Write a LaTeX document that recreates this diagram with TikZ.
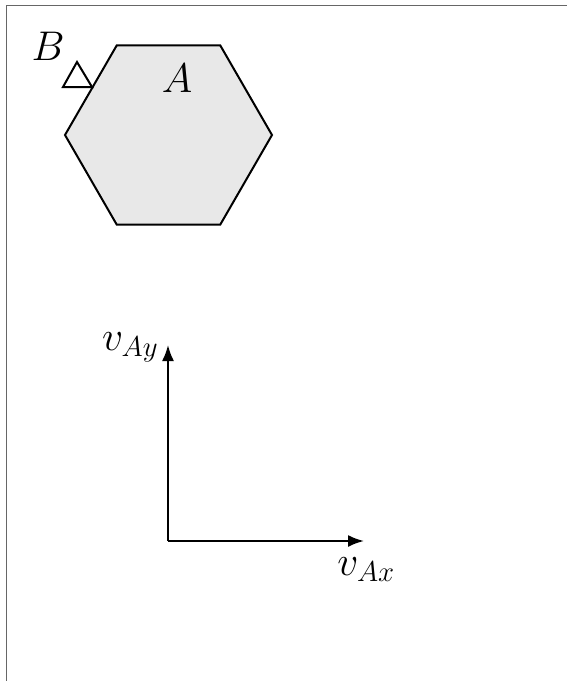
\documentclass[tikz,border=0pt]{standalone}
\usetikzlibrary{shapes.geometric,arrows.meta}

\begin{document}
\begin{tikzpicture}[
  x=0.5pt, y=-0.5pt,
  frame/.style={draw=black!60, line width=0.5pt},
  body/.style={draw, fill=black!9, line width=1pt, regular polygon, regular polygon sides=6,
    minimum size=103.5pt, inner sep=0pt},
  lbl/.style={font=\fontsize{22}{26}\selectfont, inner sep=0pt},
  axlbl/.style={font=\fontsize{20}{24}\selectfont, inner sep=0pt},
  axis/.style={-{Latex[length=8pt,width=6pt]}, line width=1pt}
]
  \useasboundingbox (0,0) rectangle (567,681);
  \draw[frame] (6,681) -- (6,5) -- (567,5);

  \node[body] (hex) at (168.5,135) {};
  \node[lbl] (A) at (177,78) {$A$};
  \draw[line width=1pt, line join=miter] (63,87) -- (77,62) -- (92,87) -- cycle;
  \node[lbl] (B) at (48,46) {$B$};

  \coordinate (O) at (168,541);
  \coordinate (ytip) at (168,345);
  \coordinate (xtip) at (364,541);
  \draw[axis] (O) -- (ytip);
  \draw[axis] (O) -- (xtip);
  \node[axlbl, anchor=base east] (vy) at (159,350) {$v_{Ay}$};
  \node[axlbl, anchor=base west] (vx) at (337,575) {$v_{Ax}$};
\end{tikzpicture}
\end{document}
